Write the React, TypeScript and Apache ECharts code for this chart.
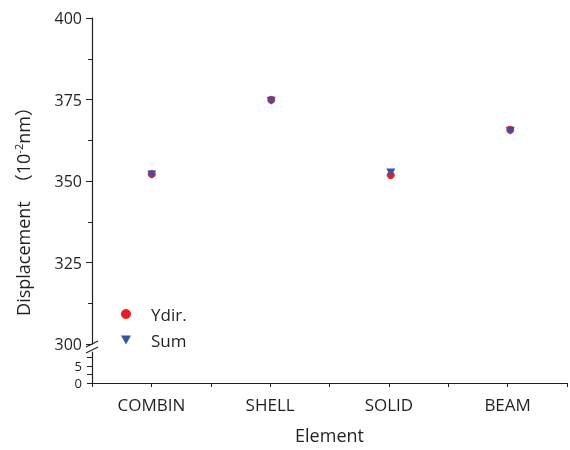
import React, { useEffect, useRef } from "react";
import * as echarts from "echarts";

const categories = ["COMBIN", "SHELL", "SOLID", "BEAM"];
const ydirValues = [352.1, 374.9, 351.8, 365.7];
const sumValues = [352.0, 374.6, 352.6, 365.4];
const upperTicks = [300, 325, 350, 375, 400];
const lowerTickLabels = [0, 5];
const lowerTicks = [0, 2.5, 5, 7.5];

const TEXT = "#231f20";
const FONT = "'Open Sans', 'Noto Sans CJK SC', sans-serif";
const triDown = "path://M0,0L10,0L5,9Z";

export default function App() {
  const ref = useRef<HTMLDivElement>(null);
  useEffect(() => {
    if (!ref.current) return;
    const chart = echarts.init(ref.current, null, { renderer: "svg" });
    const xCommon = {
      type: "value" as const,
      min: -0.5,
      max: 3.5,
      interval: 0.5,
      splitLine: { show: false },
    };
    chart.setOption({
      animation: false,
      textStyle: { fontFamily: FONT, color: TEXT },
      grid: [
        { left: 92, right: -10, top: 18, height: 326 },
        { left: 92, right: -10, top: 352, height: 31 },
      ],
      legend: {
        orient: "vertical",
        left: 116,
        top: 299,
        itemWidth: 10,
        itemHeight: 10,
        itemGap: 6,
        data: ["Ydir.", "Sum"],
        formatter: (n: string) => `{p|}{t|${n}}`,
        textStyle: {
          fontSize: 17,
          color: TEXT,
          fontFamily: FONT,
          lineHeight: 20,
          rich: {
            p: { width: 15, lineHeight: 20 },
            t: { fontSize: 17, color: TEXT, fontFamily: FONT, lineHeight: 20 },
          },
        },
      },
      xAxis: [
        { ...xCommon, gridIndex: 0, show: false },
        {
          ...xCommon,
          gridIndex: 1,
          axisLine: { show: true, onZero: false, lineStyle: { color: TEXT, width: 1.2 } },
          axisTick: { show: true, inside: false, length: 4, lineStyle: { color: TEXT } },
          axisLabel: {
            margin: 13,
            fontSize: 17,
            color: TEXT,
            fontFamily: FONT,
            formatter: (v: number) => (Number.isInteger(v) && categories[v] ? categories[v] : ""),
          },
          name: "Element",
          nameLocation: "middle",
          nameGap: 43,
          nameTextStyle: { fontSize: 18, color: TEXT, fontFamily: FONT },
        },
      ],
      yAxis: [
        {
          type: "value",
          gridIndex: 0,
          min: upperTicks[0],
          max: upperTicks[upperTicks.length - 1],
          interval: 25,
          splitLine: { show: false },
          axisLine: { show: true, onZero: false, lineStyle: { color: TEXT, width: 1.2 } },
          axisTick: { show: true, inside: false, length: 6, lineStyle: { color: TEXT } },
          minorTick: { show: true, splitNumber: 2, length: 4, lineStyle: { color: TEXT } },
          axisLabel: { margin: 10, fontSize: 16, color: TEXT, fontFamily: FONT },
        },
        {
          type: "value",
          gridIndex: 1,
          min: 0,
          max: 9,
          splitLine: { show: false },
          axisLine: { show: true, onZero: false, lineStyle: { color: TEXT, width: 1.2 } },
          axisTick: {
            show: true,
            inside: false,
            length: 5,
            customValues: lowerTicks,
            lineStyle: { color: TEXT },
          },
          axisLabel: {
            margin: 10,
            fontSize: 13,
            lineHeight: 11,
            color: TEXT,
            fontFamily: FONT,
            customValues: lowerTickLabels,
          },
        },
      ],
      series: [
        {
          name: "Ydir.",
          type: "scatter",
          xAxisIndex: 0,
          yAxisIndex: 0,
          symbol: "circle",
          symbolSize: 8,
          itemStyle: { color: "#ec1c24", opacity: 1 },
          data: ydirValues.map((v, i) => [i, v]),
        },
        {
          name: "Sum",
          type: "scatter",
          xAxisIndex: 0,
          yAxisIndex: 0,
          symbol: triDown,
          symbolSize: [9, 8],
          itemStyle: { color: "#3953a4", opacity: 1 },
          data: sumValues.map((v, i) => [i, v]),
        },
      ],
      graphic: [
        {
          type: "line",
          shape: { x1: 86, y1: 347, x2: 98, y2: 341 },
          style: { stroke: TEXT, lineWidth: 1.2 },
        },
        {
          type: "line",
          shape: { x1: 86, y1: 353, x2: 98, y2: 347 },
          style: { stroke: TEXT, lineWidth: 1.2 },
        },
        {
          type: "text",
          x: 23,
          y: 207,
          rotation: Math.PI / 2,
          style: {
            text: "Displacement　（10{sup|-2}nm）",
            fontSize: 18,
            fontFamily: FONT,
            fill: TEXT,
            align: "center",
            verticalAlign: "middle",
            rich: {
              sup: { fontSize: 11, fontFamily: FONT, fill: TEXT, verticalAlign: "top", padding: [0, 0, 9, 0] },
            },
          },
        },
      ],
    });
    return () => chart.dispose();
  }, []);
  return (
    <div
      ref={ref}
      style={{ position: "fixed", left: 0, top: 0, width: 570, height: 450 }}
    />
  );
}
